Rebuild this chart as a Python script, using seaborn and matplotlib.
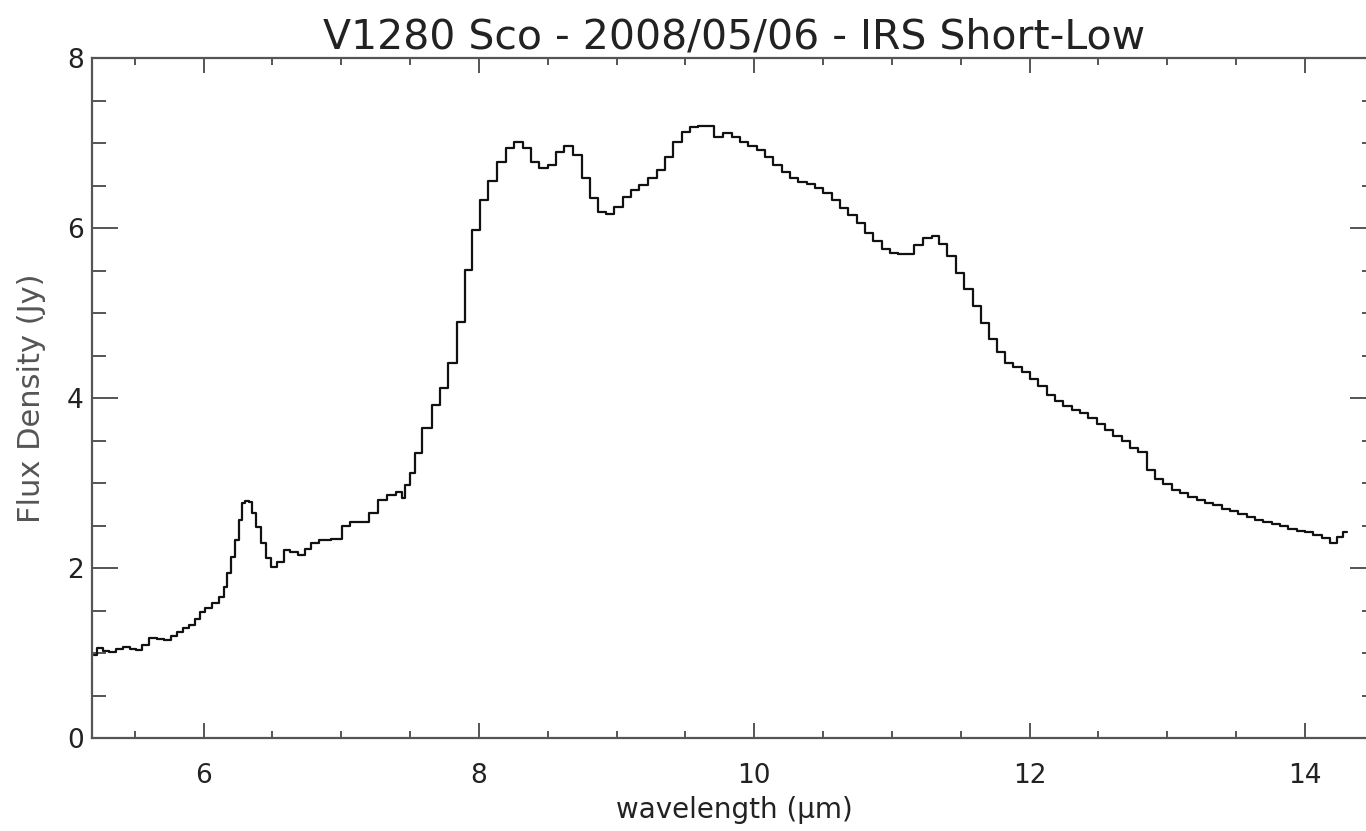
import numpy as np
import pandas as pd
import matplotlib
matplotlib.use("Agg")
import matplotlib.pyplot as plt
from matplotlib.ticker import MultipleLocator
import seaborn as sns

# ---- data (wavelength in micron, flux in Jy) ----
wavelength = [
    5.201, 5.250, 5.290, 5.344, 5.390, 5.446, 5.490, 5.530, 5.580, 5.635,
    5.685, 5.743, 5.790, 5.831, 5.875, 5.918, 5.954, 5.990, 6.034, 6.085,
    6.136, 6.158, 6.180, 6.216, 6.245, 6.267, 6.288, 6.317, 6.339, 6.361,
    6.397, 6.434, 6.470, 6.506, 6.557, 6.608, 6.651, 6.717, 6.760, 6.797,
    6.884, 6.971, 7.044, 7.087, 7.174, 7.232, 7.298, 7.370, 7.428, 7.450,
    7.479, 7.515, 7.552,
    7.628, 7.690, 7.748, 7.810, 7.871, 7.926, 7.980, 8.038, 8.100, 8.166,
    8.224, 8.285, 8.351, 8.409, 8.471, 8.532, 8.590, 8.652, 8.718, 8.776,
    8.834, 8.895, 8.950, 9.012, 9.077, 9.135, 9.197, 9.262, 9.324, 9.382,
    9.444, 9.505, 9.564, 9.622, 9.680, 9.741, 9.807, 9.869, 9.927, 9.988,
    10.050, 10.109, 10.170, 10.232, 10.290, 10.352, 10.413, 10.471, 10.533, 10.595,
    10.653, 10.715, 10.776, 10.835, 10.896, 10.958, 11.016, 11.074, 11.132, 11.194,
    11.259, 11.317, 11.372, 11.434, 11.495, 11.557, 11.619, 11.677, 11.739, 11.793,
    11.851, 11.913, 11.975, 12.033, 12.095, 12.156, 12.214, 12.276, 12.338, 12.396,
    12.458, 12.519, 12.577, 12.639, 12.701, 12.759, 12.821, 12.882, 12.940, 13.002,
    13.064, 13.122, 13.184, 13.245, 13.304, 13.365, 13.427, 13.485, 13.547, 13.609,
    13.667, 13.728, 13.790, 13.848, 13.910, 13.972, 14.030, 14.091, 14.153, 14.208,
    14.256, 14.303,
]
flux = [
    0.98, 1.06, 1.02, 1.01, 1.05, 1.07, 1.05, 1.04, 1.10, 1.18,
    1.17, 1.15, 1.20, 1.25, 1.29, 1.33, 1.40, 1.48, 1.53, 1.59,
    1.66, 1.78, 1.94, 2.13, 2.33, 2.56, 2.76, 2.79, 2.78, 2.65,
    2.48, 2.29, 2.12, 2.01, 2.07, 2.21, 2.19, 2.15, 2.22, 2.29,
    2.33, 2.34, 2.50, 2.54, 2.54, 2.65, 2.80, 2.86, 2.90, 2.82,
    2.98, 3.12, 3.35,
    3.65, 3.92, 4.12, 4.41, 4.89, 5.51, 5.98, 6.33, 6.55, 6.78,
    6.94, 7.01, 6.94, 6.78, 6.71, 6.74, 6.89, 6.96, 6.86, 6.59,
    6.35, 6.19, 6.16, 6.25, 6.36, 6.45, 6.51, 6.59, 6.68, 6.84,
    7.01, 7.13, 7.19, 7.20, 7.20, 7.07, 7.12, 7.07, 7.01, 6.96,
    6.92, 6.84, 6.74, 6.66, 6.59, 6.54, 6.52, 6.47, 6.41, 6.33,
    6.24, 6.15, 6.06, 5.94, 5.85, 5.75, 5.71, 5.69, 5.69, 5.80,
    5.88, 5.91, 5.81, 5.67, 5.47, 5.28, 5.08, 4.88, 4.70, 4.54,
    4.41, 4.37, 4.31, 4.22, 4.14, 4.03, 3.96, 3.91, 3.86, 3.82,
    3.76, 3.70, 3.62, 3.55, 3.49, 3.41, 3.36, 3.15, 3.05, 2.99,
    2.92, 2.88, 2.84, 2.80, 2.77, 2.74, 2.70, 2.67, 2.63, 2.60,
    2.57, 2.54, 2.52, 2.49, 2.46, 2.44, 2.42, 2.39, 2.35, 2.30,
    2.36, 2.42,
]
x_major_ticks = [6, 8, 10, 12, 14]
y_major_ticks = [0, 2, 4, 6, 8]

title_text = "V1280 Sco - 2008/05/06 - IRS Short-Low"
xlabel_text = "wavelength (\u03bcm)"
ylabel_text = "Flux Density (Jy)"

df = pd.DataFrame({"wavelength": wavelength, "flux": flux})

sns.set_theme(style="white")
plt.rcParams["font.family"] = ["DejaVu Sans"]

W, H = 1366, 831
fig = plt.figure(figsize=(W / 100, H / 100), dpi=100)
ax = fig.add_axes([92 / W, (H - 738) / H, (1376 - 92) / W, 680 / H])

sns.lineplot(data=df, x="wavelength", y="flux", ax=ax, color="#111111",
             linewidth=1.6, drawstyle="steps-mid", errorbar=None)

ax.set_xlim(5.19, 14.516)
ax.set_ylim(0, 8)
ax.set_xticks(x_major_ticks)
ax.set_yticks(y_major_ticks)
ax.xaxis.set_minor_locator(MultipleLocator(0.5))
ax.yaxis.set_minor_locator(MultipleLocator(0.5))

spine_col = "#555555"
for s in ax.spines.values():
    s.set_color(spine_col)
    s.set_linewidth(1.6)
    s.set_visible(True)

ax.tick_params(axis="x", which="major", direction="in", length=11, width=1.4,
               color=spine_col, top=True, bottom=True, labelsize=19, pad=18,
               labelcolor="#222222")
ax.tick_params(axis="x", which="minor", direction="in", length=5, width=1.4,
               color=spine_col, top=True, bottom=True)
ax.tick_params(axis="y", which="major", direction="in", length=19, width=1.4,
               color=spine_col, left=True, right=True, labelsize=19, pad=6,
               labelcolor="#222222")
ax.tick_params(axis="y", which="minor", direction="in", length=10, width=1.4,
               color=spine_col, left=True, right=True)

ax.set_xlabel(xlabel_text, fontsize=20, color="#222222", labelpad=5)
ax.set_ylabel(ylabel_text, fontsize=22, color="#555555", labelpad=15)
ax.set_title(title_text, fontsize=29.5, color="#222222", pad=7)
ax.grid(False)
ax.set_facecolor("white")
fig.patch.set_facecolor("white")

fig.savefig("out.png", dpi=100, facecolor="white")
